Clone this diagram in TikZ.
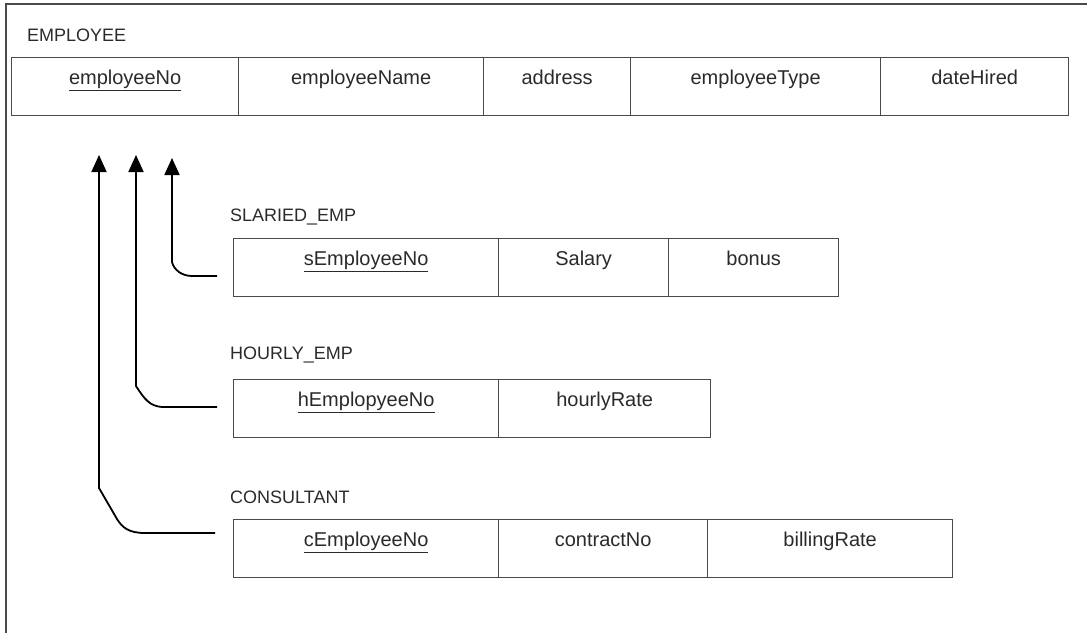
\documentclass[tikz,border=0pt]{standalone}
\usepackage{fontspec}
\setmainfont{Liberation Sans}
\usetikzlibrary{arrows.meta}
\definecolor{rulegray}{HTML}{4A4A4A}
\definecolor{txt}{HTML}{2A2A2A}
\begin{document}
\begin{tikzpicture}[x=1pt,y=-1pt,
  cell/.style={draw=rulegray, line width=1.3pt, inner sep=0pt, anchor=north west,
    text height=27pt, text depth=31pt, font=\fontsize{20}{23}\selectfont, text=txt},
  title/.style={anchor=west, inner sep=0pt, font=\fontsize{18}{21}\selectfont, text=txt},
  link/.style={line width=1.8pt, -{Triangle[width=15pt,length=17pt]}}
]
\useasboundingbox (0,0) rectangle (1087,633);

% outer frame (top and left edges)
\draw[rulegray, line width=1.4pt] (6,633) -- (6,4) -- (1087,4);

% EMPLOYEE relation
\node[title] (lblEmp) at (27,35) {EMPLOYEE};
\node[cell, minimum width=227] (e1) at (11,57)  {\underline{employeeNo}};
\node[cell, minimum width=245] (e2) at (238,57) {employeeName};
\node[cell, minimum width=147] (e3) at (483,57) {address};
\node[cell, minimum width=250] (e4) at (630,57) {employeeType};
\node[cell, minimum width=188] (e5) at (880,57) {dateHired};

% SLARIED_EMP relation
\node[title] (lblSal) at (230,217) {SLARIED\_EMP};
\node[cell, minimum width=265] (s1) at (233,238) {\underline{sEmployeeNo}};
\node[cell, minimum width=170] (s2) at (498,238) {Salary};
\node[cell, minimum width=170] (s3) at (668,238) {bonus};

% HOURLY_EMP relation
\node[title] (lblHr) at (230,355) {HOURLY\_EMP};
\node[cell, minimum width=265] (h1) at (233,379) {\underline{hEmplopyeeNo}};
\node[cell, minimum width=212] (h2) at (498,379) {hourlyRate};

% CONSULTANT relation
\node[title] (lblCon) at (230,497) {CONSULTANT};
\node[cell, minimum width=265] (c1) at (233,519) {\underline{cEmployeeNo}};
\node[cell, minimum width=209] (c2) at (498,519) {contractNo};
\node[cell, minimum width=245] (c3) at (707,519) {billingRate};

% foreign key references
\coordinate (tipC) at (99,155);
\coordinate (tipH) at (136,155);
\coordinate (tipS) at (172,158);
\coordinate (fromS) at (217,276);
\coordinate (fromH) at (217,407);
\coordinate (fromC) at (215,533);

\draw[link] (fromS) -- (192,276) .. controls (182,276) and (174,270) .. (172,262) -- (tipS);
\draw[link] (fromH) -- (162,407) .. controls (150,406) and (145,400) .. (136,386) -- (tipH);
\draw[link] (fromC) -- (145,533) .. controls (128,533) and (122,527) .. (117,519) -- (99,488) -- (tipC);
\end{tikzpicture}
\end{document}
